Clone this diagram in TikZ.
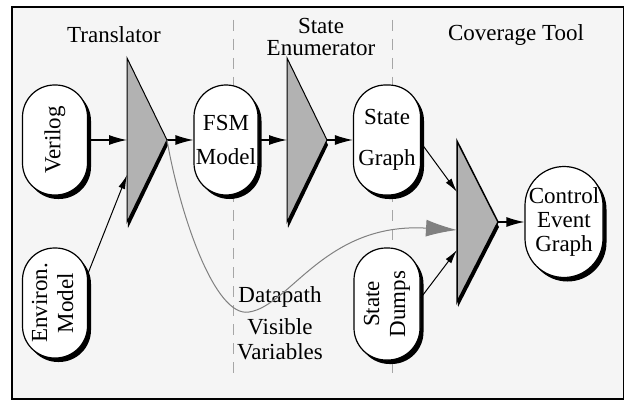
\documentclass[tikz,border=0pt]{standalone}
\usepackage{fontspec}
\setmainfont{Liberation Serif}
\usepackage{graphicx}
\usetikzlibrary{arrows.meta,shadows}
\begin{document}
\begin{tikzpicture}[x=1pt,y=-1pt,
  font=\fontsize{23}{26}\selectfont,
  stadium/.style={draw, line width=1.2pt, fill=white, rounded corners=#1, inner sep=0pt,
    general shadow={fill=black, shadow xshift=3.5pt, shadow yshift=-4pt}},
  stadium/.default=32pt,
  procbox/.style={draw, line width=1pt, fill=black!30, line join=miter},
  procshadow/.style={fill=black},
  bigarrow/.style={-{Latex[length=18pt,width=10pt]}, line width=1.2pt},
  smallarrow/.style={-{Latex[length=14pt,width=7pt]}, line width=1pt},
  greyarrow/.style={draw=black!50, -{Latex[length=31pt,width=17pt,fill=black!50]}, line width=1pt},
  divider/.style={draw=black!35, line width=1pt, dash pattern=on 11pt off 8pt}
]
\useasboundingbox (0,0) rectangle (626,401);
% frame
\draw[fill=black!4, line width=1.3pt] (12,7) rectangle (623.5,399);
% dividers
\draw[divider] (233,20) -- (233,377);
\draw[divider] (392,20) -- (392,377);
% titles
\node (ttrans) at (114,35) {Translator};
\node[align=center] (tenum) at (321,37) {State\\[-4pt]Enumerator};
\node (tcov) at (516,35) {Coverage Tool};
% process triangles
\fill[procshadow] (127,63) -- (168,145) -- (128,228) -- cycle;
\draw[procbox] (127,58) -- (167,140) -- (127,222) -- cycle;
\fill[procshadow] (287,63) -- (328,145) -- (288,228) -- cycle;
\draw[procbox] (287,58) -- (327,140) -- (287,222) -- cycle;
\fill[procshadow] (457,146) -- (499,227) -- (458,307) -- cycle;
\draw[procbox, line width=1.5pt] (457,141) -- (498,222) -- (457,302) -- cycle;
\coordinate (t1in) at (127,140);
\coordinate (t1low) at (127,175);
\coordinate (t1tip) at (167,140);
\coordinate (t2in) at (287,140);
\coordinate (t2tip) at (327,140);
\coordinate (t3inA) at (457,192);
\coordinate (t3inB) at (457,250);
\coordinate (t3inC) at (457,230);
\coordinate (t3tip) at (498,222);
\coordinate (dpbot) at (249,312);
% stadium nodes
\node[stadium, minimum width=65pt, minimum height=110pt] (verilog) at (55,140) {\rotatebox{90}{Verilog}};
\node[stadium, minimum width=65pt, minimum height=110pt] (environ) at (55,303)
  {\rotatebox{90}{\begin{tabular}{@{}c@{}}Environ.\\Model\end{tabular}}};
\node[stadium, minimum width=64pt, minimum height=110pt, align=center] (fsm) at (226,140) {FSM\\[8pt]Model};
\node[stadium, minimum width=67pt, minimum height=110pt, align=center] (sgraph) at (387,140) {State\\[15pt]Graph};
\node[stadium, minimum width=66pt, minimum height=112pt] (sdumps) at (387,304)
  {\rotatebox{90}{\begin{tabular}{@{}c@{}}State\\Dumps\end{tabular}}};
\node[stadium=39pt, minimum width=78pt, minimum height=111pt, align=center] (ceg) at (564,222)
  {Control\\[-2pt]Event\\[-2pt]Graph};
% datapath label
\node[align=center] (dvv) at (280,323) {Datapath\\[6pt]Visible\\[-1pt]Variables};
% connectors
\draw[bigarrow] (verilog.east) -- (t1in);
\draw[smallarrow] (environ.42) -- (t1low);
\draw[bigarrow] (t1tip) -- (fsm.west);
\draw[bigarrow] (fsm.east) -- (t2in);
\draw[bigarrow] (t2tip) -- (sgraph.west);
\draw[smallarrow] (sgraph.-5) -- (t3inA);
\draw[smallarrow] (sdumps.10) -- (t3inB);
\draw[bigarrow] (t3tip) -- (ceg.west);
\draw[greyarrow] (t1tip) .. controls (180,215) and (215,318) .. (dpbot)
  .. controls (290,306) and (325,222) .. (t3inC);
\end{tikzpicture}
\end{document}
